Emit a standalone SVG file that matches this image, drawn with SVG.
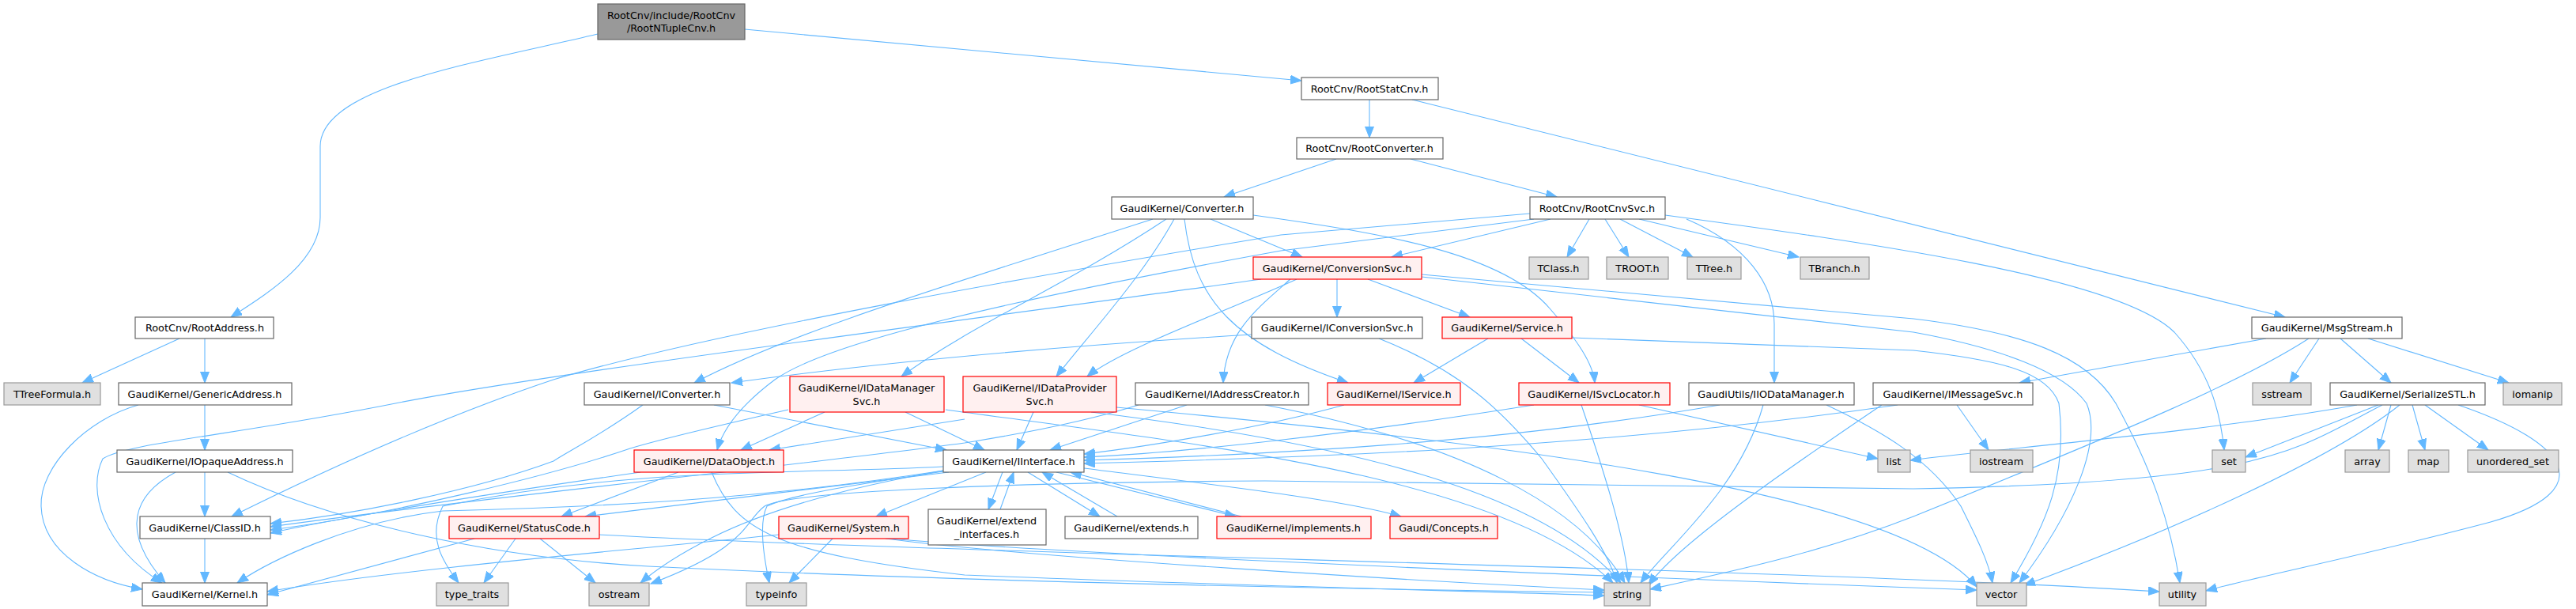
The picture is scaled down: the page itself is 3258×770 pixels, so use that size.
<svg xmlns="http://www.w3.org/2000/svg" width="3258" height="770" viewBox="0 0 3258 770">
<style>
text{font-family:"DejaVu Sans",Verdana,sans-serif;font-size:12.8px;text-anchor:middle;fill:#000}
.m rect{fill:#999999;stroke:#666666;stroke-width:1.2}
.w rect{fill:#ffffff;stroke:#666666;stroke-width:1.2}
.r rect{fill:#FFF0F0;stroke:#FF0000;stroke-width:1.2}
.s rect{fill:#E0E0E0;stroke:#999999;stroke-width:1.2}
#edges path{fill:none;stroke:#63B8FF;stroke-width:1.1;marker-end:url(#ah)}
</style>
<defs>
<marker id="ah" markerUnits="userSpaceOnUse" markerWidth="15" markerHeight="12" refX="14" refY="5.5" orient="auto"><path d="M0,0 L14,5.5 L0,11 z" fill="#63B8FF" stroke="#63B8FF"/></marker>
</defs>
<rect width="3258" height="770" fill="#ffffff"/>
<g id="edges">
<path d="M942,37 L1646,102"/>
<path d="M756,43 C600,80 405,110 405,185 L405,275 C405,330 340,370 292,401"/>
<path d="M1732,126 L1732,174"/>
<path d="M1786,126 L2890,401"/>
<path d="M1690,201 L1548,249"/>
<path d="M1784,201 L1969,249"/>
<path d="M227,428 L104,484"/>
<path d="M259,428 L259,484"/>
<path d="M259,512 L259,569"/>
<path d="M175,512 C110,530 50,590 52,640 C54,700 120,735 180,745"/>
<path d="M259,597 L259,653"/>
<path d="M222,597 C170,625 150,670 209,737"/>
<path d="M288,597 C420,660 620,705 820,716 C1200,735 1700,745 2029,749"/>
<path d="M259,681 L259,737"/>
<path d="M1458,277 C1200,360 1000,420 878,484"/>
<path d="M1475,277 C1350,360 1230,410 1140,476"/>
<path d="M1485,277 C1445,350 1380,420 1336,476"/>
<path d="M1498,277 C1510,380 1560,435 1705,484"/>
<path d="M1531,277 L1647,325"/>
<path d="M1585,272 C1750,295 1900,320 1960,390 C1995,430 2015,460 2017,484"/>
<path d="M1961,277 L1760,325"/>
<path d="M2010,277 L1982,325"/>
<path d="M2030,277 L2060,325"/>
<path d="M2049,277 L2141,325"/>
<path d="M2073,277 L2275,325"/>
<path d="M2133,277 C2210,310 2244,360 2244,410 L2244,484"/>
<path d="M2106,272 C2350,305 2680,350 2750,420 C2795,470 2808,520 2813,569"/>
<path d="M1935,270 L1620,297 C1300,350 900,420 700,480 C550,530 400,600 293,653"/>
<path d="M1940,277 L1620,317 C1300,375 1050,430 980,480 C940,510 915,540 907,569"/>
<path d="M1595,353 C1300,395 700,470 500,510 C300,550 160,560 130,580 C110,620 130,690 205,737"/>
<path d="M1691,353 L1691,401"/>
<path d="M1730,353 L1859,401"/>
<path d="M1632,353 C1590,390 1550,420 1547,484"/>
<path d="M1640,353 C1560,390 1420,440 1375,476"/>
<path d="M1798,347 L2420,403 C2560,420 2640,450 2676,510 C2720,590 2745,660 2757,737"/>
<path d="M1798,350 L2420,420 C2530,440 2610,470 2639,510 C2660,560 2620,650 2554,737"/>
<path d="M1988,427 L2420,443 C2530,455 2590,470 2604,510 C2615,600 2590,660 2543,737"/>
<path d="M1583,423 C1300,440 1100,460 925,484"/>
<path d="M1744,428 C1850,470 1900,520 1950,580 C2000,650 2035,700 2045,737"/>
<path d="M1882,428 L1788,484"/>
<path d="M1924,428 L1997,484"/>
<path d="M1700,512 C1600,540 1450,565 1371,574"/>
<path d="M1940,512 C1700,550 1500,572 1371,578"/>
<path d="M2175,512 C1900,560 1600,575 1371,582"/>
<path d="M2400,512 C2000,570 1600,580 1371,586"/>
<path d="M2073,512 L2375,580"/>
<path d="M2000,512 C2030,600 2055,680 2060,737"/>
<path d="M2230,512 C2200,620 2110,690 2075,737"/>
<path d="M2310,512 C2380,545 2440,580 2480,640 C2500,680 2515,710 2520,737"/>
<path d="M2475,512 L2515,569"/>
<path d="M2380,512 C2250,600 2120,690 2085,740"/>
<path d="M2866,428 L2554,484"/>
<path d="M2933,428 L2896,484"/>
<path d="M2960,428 L3024,484"/>
<path d="M2995,428 L3173,484"/>
<path d="M2920,428 C2840,480 2700,540 2420,653 C2300,700 2180,725 2087,745"/>
<path d="M2981,512 C2800,545 2500,570 2416,582"/>
<path d="M3008,512 L2840,578"/>
<path d="M3024,512 L3008,569"/>
<path d="M3051,512 L3067,569"/>
<path d="M3067,512 L3147,569"/>
<path d="M3035,512 C2950,580 2750,670 2560,740"/>
<path d="M3109,512 C3250,560 3290,620 3150,660 C3000,700 2850,730 2790,747"/>
<path d="M3013,512 C2900,570 2870,610 2420,618 L1600,608 C1300,610 1000,620 967,640 C940,660 950,690 823,738"/>
<path d="M903,512 L1197,569"/>
<path d="M813,512 C760,550 720,570 700,583 C600,620 450,650 342,662"/>
<path d="M1440,512 C1350,540 1250,555 1220,560 C1000,590 600,630 342,666"/>
<path d="M997,518 C900,540 820,560 797,567 C700,600 500,650 342,670"/>
<path d="M810,597 C650,620 450,650 342,674"/>
<path d="M1043,521 L937,569"/>
<path d="M1145,521 L1245,569"/>
<path d="M1196,518 C1500,560 1900,600 2040,737"/>
<path d="M1220,530 L973,569"/>
<path d="M1307,521 L1286,569"/>
<path d="M1380,521 C1700,560 1950,620 2050,737"/>
<path d="M1412,515 C1900,560 2400,620 2500,742"/>
<path d="M1501,512 L1328,569"/>
<path d="M1600,512 C1850,560 2000,640 2055,737"/>
<path d="M858,597 L710,653"/>
<path d="M900,597 C930,670 980,700 1220,727 C1600,742 1900,748 2029,753"/>
<path d="M1247,597 L1108,653"/>
<path d="M1268,597 L1250,644"/>
<path d="M1265,644 L1282,597"/>
<path d="M1300,597 L1391,653"/>
<path d="M1413,653 L1318,597"/>
<path d="M1336,597 L1563,653"/>
<path d="M1570,653 L1354,597"/>
<path d="M1371,592 C1550,615 1700,632 1772,653"/>
<path d="M1193,595 C1000,625 820,640 560,646 C440,660 340,710 300,737"/>
<path d="M1200,597 C1000,620 850,640 740,653"/>
<path d="M1193,590 C1000,600 800,590 560,640 C540,680 560,710 580,737"/>
<path d="M1193,595 C1050,620 960,650 900,680 C860,700 830,720 810,737"/>
<path d="M1193,596 C1100,610 1000,625 970,640 C960,660 965,700 973,737"/>
<path d="M600,681 L338,752"/>
<path d="M652,681 L612,737"/>
<path d="M683,681 L753,737"/>
<path d="M758,676 C1200,700 2300,720 2731,748"/>
<path d="M1053,681 L998,737"/>
<path d="M985,676 C800,695 500,720 338,748"/>
<path d="M1120,681 C1300,705 1800,735 2029,746"/>
<path d="M1125,681 C1400,705 2200,735 2500,746"/>
</g>
<g id="n0" class="m"><rect x="756" y="5" width="186" height="45"/><text x="849" y="24">RootCnv/include/RootCnv</text><text x="849" y="40">/RootNTupleCnv.h</text></g>
<g id="n1" class="w"><rect x="1646" y="98" width="173" height="28"/><text x="1732" y="117">RootCnv/RootStatCnv.h</text></g>
<g id="n2" class="w"><rect x="171" y="401" width="175" height="27"/><text x="259" y="419">RootCnv/RootAddress.h</text></g>
<g id="n3" class="w"><rect x="1640" y="174" width="185" height="27"/><text x="1732" y="192">RootCnv/RootConverter.h</text></g>
<g id="n4" class="w"><rect x="2848" y="401" width="190" height="27"/><text x="2943" y="419">GaudiKernel/MsgStream.h</text></g>
<g id="n5" class="w"><rect x="1406" y="249" width="179" height="28"/><text x="1495" y="268">GaudiKernel/Converter.h</text></g>
<g id="n6" class="w"><rect x="1935" y="249" width="171" height="28"/><text x="2020" y="268">RootCnv/RootCnvSvc.h</text></g>
<g id="n7" class="r"><rect x="1585" y="325" width="213" height="28"/><text x="1691" y="344">GaudiKernel/ConversionSvc.h</text></g>
<g id="n8" class="w"><rect x="1583" y="401" width="216" height="27"/><text x="1691" y="419">GaudiKernel/IConversionSvc.h</text></g>
<g id="n9" class="r"><rect x="1824" y="401" width="164" height="27"/><text x="1906" y="419">GaudiKernel/Service.h</text></g>
<g id="n10" class="s"><rect x="1934" y="325" width="75" height="28"/><text x="1971" y="344">TClass.h</text></g>
<g id="n11" class="s"><rect x="2032" y="325" width="78" height="28"/><text x="2071" y="344">TROOT.h</text></g>
<g id="n12" class="s"><rect x="2134" y="325" width="68" height="28"/><text x="2168" y="344">TTree.h</text></g>
<g id="n13" class="s"><rect x="2277" y="325" width="87" height="28"/><text x="2320" y="344">TBranch.h</text></g>
<g id="n14" class="s"><rect x="5" y="484" width="122" height="28"/><text x="66" y="503">TTreeFormula.h</text></g>
<g id="n15" class="w"><rect x="150" y="484" width="219" height="28"/><text x="259" y="503">GaudiKernel/GenericAddress.h</text></g>
<g id="n16" class="w"><rect x="739" y="484" width="184" height="28"/><text x="831" y="503">GaudiKernel/IConverter.h</text></g>
<g id="n17" class="r"><rect x="999" y="476" width="195" height="45"/><text x="1096" y="495">GaudiKernel/IDataManager</text><text x="1096" y="512">Svc.h</text></g>
<g id="n18" class="r"><rect x="1218" y="476" width="194" height="45"/><text x="1315" y="495">GaudiKernel/IDataProvider</text><text x="1315" y="512">Svc.h</text></g>
<g id="n19" class="w"><rect x="1436" y="484" width="219" height="28"/><text x="1546" y="503">GaudiKernel/IAddressCreator.h</text></g>
<g id="n20" class="r"><rect x="1679" y="484" width="168" height="28"/><text x="1763" y="503">GaudiKernel/IService.h</text></g>
<g id="n21" class="r"><rect x="1921" y="484" width="191" height="28"/><text x="2016" y="503">GaudiKernel/ISvcLocator.h</text></g>
<g id="n22" class="w"><rect x="2136" y="484" width="209" height="28"/><text x="2240" y="503">GaudiUtils/IIODataManager.h</text></g>
<g id="n23" class="w"><rect x="2369" y="484" width="202" height="28"/><text x="2470" y="503">GaudiKernel/IMessageSvc.h</text></g>
<g id="n24" class="s"><rect x="2849" y="484" width="74" height="28"/><text x="2886" y="503">sstream</text></g>
<g id="n25" class="w"><rect x="2947" y="484" width="196" height="28"/><text x="3045" y="503">GaudiKernel/SerializeSTL.h</text></g>
<g id="n26" class="s"><rect x="3166" y="484" width="74" height="28"/><text x="3203" y="503">iomanip</text></g>
<g id="n27" class="w"><rect x="148" y="569" width="222" height="28"/><text x="259" y="588">GaudiKernel/IOpaqueAddress.h</text></g>
<g id="n28" class="r"><rect x="802" y="569" width="189" height="28"/><text x="897" y="588">GaudiKernel/DataObject.h</text></g>
<g id="n29" class="w"><rect x="1193" y="569" width="178" height="28"/><text x="1282" y="588">GaudiKernel/IInterface.h</text></g>
<g id="n30" class="s"><rect x="2375" y="569" width="41" height="28"/><text x="2395" y="588">list</text></g>
<g id="n31" class="s"><rect x="2492" y="569" width="79" height="28"/><text x="2531" y="588">iostream</text></g>
<g id="n32" class="s"><rect x="2798" y="569" width="42" height="28"/><text x="2819" y="588">set</text></g>
<g id="n33" class="s"><rect x="2966" y="569" width="56" height="28"/><text x="2994" y="588">array</text></g>
<g id="n34" class="s"><rect x="3046" y="569" width="51" height="28"/><text x="3071" y="588">map</text></g>
<g id="n35" class="s"><rect x="3121" y="569" width="115" height="28"/><text x="3178" y="588">unordered_set</text></g>
<g id="n36" class="w"><rect x="177" y="653" width="165" height="28"/><text x="259" y="672">GaudiKernel/ClassID.h</text></g>
<g id="n37" class="r"><rect x="568" y="653" width="190" height="28"/><text x="663" y="672">GaudiKernel/StatusCode.h</text></g>
<g id="n38" class="r"><rect x="985" y="653" width="164" height="28"/><text x="1067" y="672">GaudiKernel/System.h</text></g>
<g id="n39" class="w"><rect x="1174" y="644" width="149" height="45"/><text x="1248" y="663">GaudiKernel/extend</text><text x="1248" y="680">_interfaces.h</text></g>
<g id="n40" class="w"><rect x="1347" y="653" width="168" height="28"/><text x="1431" y="672">GaudiKernel/extends.h</text></g>
<g id="n41" class="r"><rect x="1539" y="653" width="195" height="28"/><text x="1636" y="672">GaudiKernel/implements.h</text></g>
<g id="n42" class="r"><rect x="1758" y="653" width="136" height="28"/><text x="1826" y="672">Gaudi/Concepts.h</text></g>
<g id="n43" class="w"><rect x="180" y="737" width="158" height="29"/><text x="259" y="756">GaudiKernel/Kernel.h</text></g>
<g id="n44" class="s"><rect x="552" y="737" width="91" height="29"/><text x="597" y="756">type_traits</text></g>
<g id="n45" class="s"><rect x="745" y="737" width="76" height="29"/><text x="783" y="756">ostream</text></g>
<g id="n46" class="s"><rect x="944" y="737" width="76" height="29"/><text x="982" y="756">typeinfo</text></g>
<g id="n47" class="s"><rect x="2029" y="737" width="58" height="29"/><text x="2058" y="756">string</text></g>
<g id="n48" class="s"><rect x="2500" y="737" width="63" height="29"/><text x="2531" y="756">vector</text></g>
<g id="n49" class="s"><rect x="2731" y="737" width="59" height="29"/><text x="2760" y="756">utility</text></g>
</svg>
